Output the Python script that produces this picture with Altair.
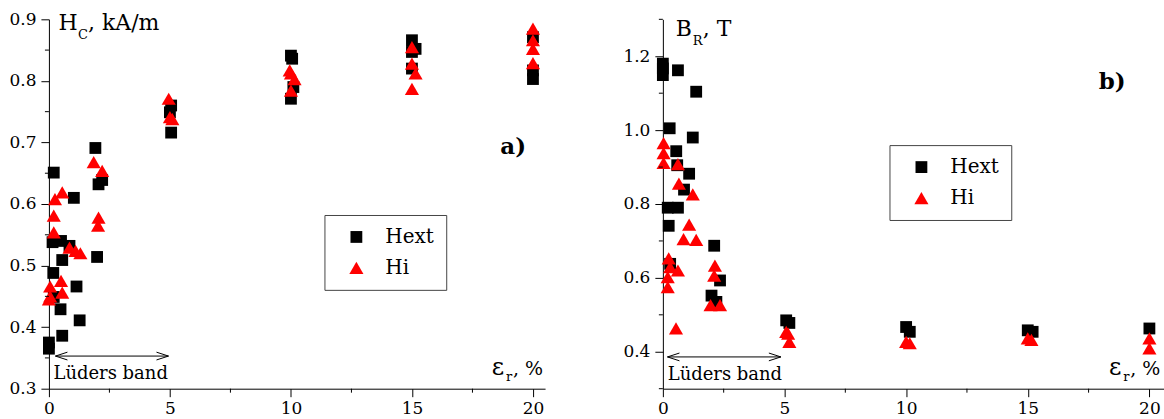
import altair as alt
import pandas as pd

FONT = "DejaVu Serif"

series_names = ["Hext", "Hi"]
series_colors = ["#000000", "#ff0000"]
series_shapes = ["square", "triangle-up"]

# ---------- panel a) coercive force H_C, kA/m ----------
a_hext_x = [0.0, 0.0, 0.2, 0.15, 0.5, 0.18, 0.2, 0.48, 0.55, 0.55, 1.03, 0.85, 1.14, 1.27,
            1.92, 2.05, 2.2, 1.99, 5.0, 5.05, 5.05, 10.0, 10.05, 10.1, 10.0,
            15.0, 15.15, 15.0, 15.0, 20.0, 20.0, 20.0]
a_hext_y = [0.375, 0.365, 0.651, 0.538, 0.540, 0.488, 0.449, 0.429, 0.509, 0.386, 0.610, 0.532,
            0.466, 0.411, 0.691, 0.632, 0.639, 0.514, 0.749, 0.760, 0.716, 0.841, 0.836, 0.790,
            0.771, 0.866, 0.852, 0.847, 0.820, 0.871, 0.817, 0.803]
a_hi_x = [0.05, 0.0, 0.05, 0.2, 0.2, 0.25, 0.55, 0.5, 0.55, 0.85, 1.1, 1.3,
          1.85, 2.2, 2.05, 2.03, 4.95, 5.0, 5.1, 9.95, 10.0, 10.15, 10.0,
          15.0, 15.0, 15.15, 15.0, 20.0, 20.0, 20.0, 20.0]
a_hi_y = [0.466, 0.445, 0.450, 0.554, 0.581, 0.608, 0.619, 0.475, 0.456, 0.529, 0.524, 0.520,
          0.668, 0.654, 0.578, 0.565, 0.771, 0.741, 0.738, 0.817, 0.812, 0.803, 0.784,
          0.855, 0.828, 0.812, 0.787, 0.885, 0.866, 0.852, 0.829]

# ---------- panel b) remanence B_R, T ----------
b_hext_x = [0.0, 0.0, 0.0, 0.62, 1.37, 0.28, 1.23, 0.55, 0.59, 1.08, 0.87, 0.2, 0.62, 0.24,
            2.11, 2.0, 2.35, 0.3, 2.2, 5.07, 5.2, 10.0, 10.15, 15.0, 15.2, 20.0]
b_hext_y = [1.180, 1.167, 1.149, 1.162, 1.104, 1.005, 0.980, 0.943, 0.905, 0.882, 0.839, 0.790,
            0.790, 0.741, 0.687, 0.552, 0.593, 0.638, 0.535, 0.485, 0.478, 0.467, 0.454,
            0.458, 0.454, 0.463]
b_hi_x = [0.03, 0.03, 0.03, 0.62, 0.66, 1.23, 1.08, 0.85, 1.37, 0.24, 0.3, 0.2, 0.62, 0.2,
          0.54, 2.14, 2.11, 1.96, 2.35, 5.07, 5.15, 5.2, 10.0, 10.15, 15.0, 15.15, 20.0, 20.0]
b_hi_y = [0.965, 0.938, 0.911, 0.908, 0.855, 0.826, 0.744, 0.705, 0.703, 0.653, 0.629, 0.602,
          0.620, 0.575, 0.463, 0.633, 0.606, 0.526, 0.526, 0.454, 0.449, 0.427, 0.427, 0.423,
          0.436, 0.432, 0.436, 0.409]

# ---------- axes ----------
x_ticks = [0, 5, 10, 15, 20]
x_minor = [2.5, 7.5, 12.5, 17.5]
a_y_ticks = [0.3, 0.4, 0.5, 0.6, 0.7, 0.8, 0.9]
a_y_minor = [0.35, 0.45, 0.55, 0.65, 0.75, 0.85]
b_y_ticks = [0.4, 0.6, 0.8, 1.0, 1.2]
b_y_minor = [0.3, 0.5, 0.7, 0.9, 1.1, 1.3]

# ---------- annotations (data coordinates) ----------
a_title = {"x": 0.4, "y": 0.882, "main": "H", "sub": "C", "rest": ", kA/m"}
b_title = {"x": 0.53, "y": 1.256, "main": "B", "sub": "R", "rest": ", T"}
a_xlabel = {"x": 20.42, "y": 0.323}
b_xlabel = {"x": 20.45, "y": 0.337}
a_band = {"x0": 0.27, "x1": 4.94, "y": 0.353, "tx": 0.19, "ty": 0.315}
b_band = {"x0": 0.19, "x1": 4.85, "y": 0.386, "tx": 0.2, "ty": 0.324}
a_tag = {"x": 18.65, "y": 0.681, "text": "a)"}
b_tag = {"x": 17.92, "y": 1.111, "text": "b)"}


def panel(hx, hy, ix, iy, xdom, ydom, yticks, yminor, w, h, title, xlabel, band, tag, lx, ly,
          sub_dx, rest_dx):
    xs = alt.Scale(domain=xdom, nice=False, zero=False)
    ys = alt.Scale(domain=ydom, nice=False, zero=False)
    X = alt.X("x:Q", scale=xs, axis=alt.Axis(values=x_ticks, title=None, format="d",
                                             labelFlush=False, labelPadding=4))
    Y = alt.Y("y:Q", scale=ys, axis=alt.Axis(values=yticks, title=None, format=".1f",
                                             labelPadding=5))

    df = pd.DataFrame({"x": hx + ix, "y": hy + iy,
                       "s": ["Hext"] * len(hx) + ["Hi"] * len(ix)})
    leg = alt.Legend(title=None, orient="none", legendX=lx, legendY=ly,
                     labelFont=FONT, labelFontSize=20, labelColor="black",
                     symbolSize=150, symbolStrokeWidth=0, padding=12, rowPadding=11,
                     columnPadding=0, columns=1,
                     symbolOffset=10, labelOffset=19, strokeColor="#444444",
                     fillColor="white")
    pts = alt.Chart(df).mark_point(filled=True, opacity=1, strokeWidth=0).encode(
        x=X, y=Y,
        color=alt.Color("s:N", scale=alt.Scale(domain=series_names, range=series_colors), legend=leg),
        shape=alt.Shape("s:N", scale=alt.Scale(domain=series_names, range=series_shapes), legend=leg),
        size=alt.Size("s:O", scale=alt.Scale(domain=series_names, range=[140, 200]), legend=None),
    )

    # minor ticks
    xm = alt.Chart(pd.DataFrame({"x": x_minor})).mark_rule(color="black", strokeWidth=1).encode(
        x=X, y=alt.value(h), y2=alt.value(h + 4))
    ym = alt.Chart(pd.DataFrame({"y": yminor})).mark_rule(color="black", strokeWidth=1).encode(
        y=Y, x=alt.value(0), x2=alt.value(-4))

    def txt(x, y, t, size, dx=0, dy=0, align="left", bold=False):
        return alt.Chart(pd.DataFrame({"x": [x], "y": [y], "t": [t]})).mark_text(
            font=FONT, fontSize=size, align=align, baseline="alphabetic", dx=dx, dy=dy,
            fontWeight="bold" if bold else "normal", color="black").encode(
            x=X, y=Y, text="t:N")

    texts = [
        txt(title["x"], title["y"], title["main"], 22),
        txt(title["x"], title["y"], title["sub"], 13, dx=sub_dx, dy=9),
        txt(title["x"], title["y"], title["rest"], 22, dx=rest_dx),
        txt(xlabel["x"], xlabel["y"], ", %", 19, align="right"),
        txt(xlabel["x"], xlabel["y"], "r", 13, dx=-31, dy=6, align="right"),
        txt(xlabel["x"], xlabel["y"], "ε", 24, dx=-39, align="right"),
        txt(band["tx"], band["ty"], "Lüders band", 18),
        txt(tag["x"], tag["y"], tag["text"], 23, bold=True),
    ]

    arrow_df = pd.DataFrame({"x": [band["x0"]], "x2": [band["x1"]], "y": [band["y"]]})
    arrow_line = alt.Chart(arrow_df).mark_rule(color="black", strokeWidth=1).encode(
        x=X, x2="x2:Q", y=Y)
    head_l = alt.Chart(pd.DataFrame({"x": [band["x0"]], "y": [band["y"]]})).mark_point(
        shape="M2,-0.65L0,0L2,0.65", size=144, filled=False, color="black",
        strokeWidth=1, opacity=1).encode(x=X, y=Y)
    head_r = alt.Chart(pd.DataFrame({"x": [band["x1"]], "y": [band["y"]]})).mark_point(
        shape="M-2,-0.65L0,0L-2,0.65", size=144, filled=False, color="black",
        strokeWidth=1, opacity=1).encode(x=X, y=Y)

    return alt.layer(pts, xm, ym, arrow_line, head_l, head_r, *texts).properties(
        width=w, height=h)


left = panel(a_hext_x, a_hext_y, a_hi_x, a_hi_y, [0, 20.5], [0.3, 0.9], a_y_ticks, a_y_minor,
             497, 370, a_title, a_xlabel, a_band, a_tag, 276, 196, 19.5, 29.5)
right = panel(b_hext_x, b_hext_y, b_hi_x, b_hi_y, [0, 20.6], [0.3, 1.3], b_y_ticks, b_y_minor,
              502, 370, b_title, b_xlabel, b_band, b_tag, 227, 126, 17, 27)

chart = alt.hconcat(left, right, spacing=77).resolve_scale(
    color="independent", shape="independent", size="independent"
).resolve_legend(color="independent", shape="independent").configure_view(
    stroke=None
).configure_axis(
    domainColor="black", domainWidth=1, tickColor="black", tickSize=8, tickWidth=1,
    labelFont=FONT, labelFontSize=17, labelColor="black", grid=False
).properties(padding={"left": 8, "top": 10, "right": 0, "bottom": 0}, background="white")

chart.save("out.html", embed_options={"renderer": "svg", "actions": False})
